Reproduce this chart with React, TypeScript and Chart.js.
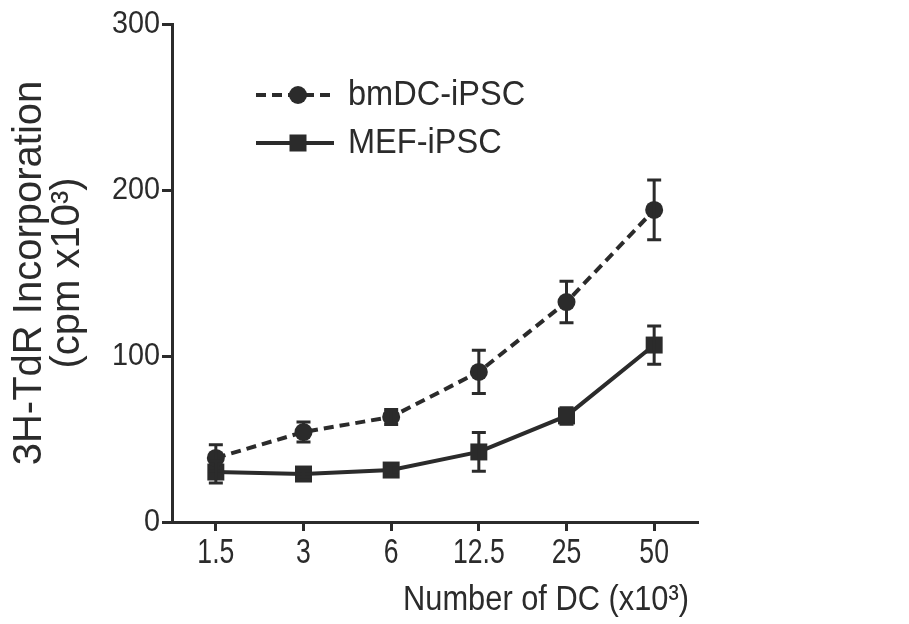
import React, { useEffect, useRef } from "react";
import { Chart, registerables } from "chart.js";

Chart.register(...registerables);

const categories = ["1.5", "3", "6", "12.5", "25", "50"];
const bmdcValues = [38.6, 54.2, 63.3, 90.4, 132.5, 188];
const bmdcErrors = [8, 6, 4.5, 13, 12.5, 18];
const mefValues = [30.1, 28.9, 31.3, 42.2, 63.9, 106.6];
const mefErrors = [6.6, 2, 3, 11.7, 5, 11.5];
const yTicks = [0, 100, 200, 300];
const xTitle = "Number of DC (x10³)";
const yTitleLines = ["3H-TdR Incorporation", "(cpm x10³)"];

const INK = "#2b2b2b";
const FAMILY = "'Liberation Sans', Arial, sans-serif";

function drawScaledText(
  ctx: CanvasRenderingContext2D,
  text: string,
  x: number,
  y: number,
  size: number,
  sx: number,
  align: CanvasTextAlign,
  rotation = 0
) {
  ctx.save();
  ctx.translate(x, y);
  if (rotation) ctx.rotate(rotation);
  ctx.scale(sx, 1);
  ctx.font = `${size}px ${FAMILY}`;
  ctx.fillStyle = INK;
  ctx.textAlign = align;
  ctx.textBaseline = "middle";
  ctx.fillText(text, 0, 0);
  ctx.restore();
}

const errorBarPlugin = {
  id: "errorBars",
  afterDatasetsDraw(chart: any) {
    const ctx = chart.ctx;
    const y = chart.scales.y;
    chart.data.datasets.forEach((ds: any, i: number) => {
      const meta = chart.getDatasetMeta(i);
      const errs: number[] = ds.errors || [];
      meta.data.forEach((pt: any, j: number) => {
        const v = ds.data[j];
        const e = errs[j] || 0;
        if (!e) return;
        const top = y.getPixelForValue(v + e);
        const bot = y.getPixelForValue(v - e);
        const x = pt.x;
        ctx.save();
        ctx.strokeStyle = INK;
        ctx.lineWidth = 3;
        ctx.beginPath();
        ctx.moveTo(x, top);
        ctx.lineTo(x, bot);
        ctx.moveTo(x - 7, top);
        ctx.lineTo(x + 7, top);
        ctx.moveTo(x - 7, bot);
        ctx.lineTo(x + 7, bot);
        ctx.stroke();
        ctx.restore();
      });
    });
  },
};

const textPlugin = {
  id: "axisText",
  afterDraw(chart: any) {
    const ctx = chart.ctx;
    const area = chart.chartArea;
    const xs = chart.scales.x;
    const ys = chart.scales.y;
    // x tick labels
    categories.forEach((c, i) => {
      drawScaledText(ctx, c, xs.getPixelForTick(i), area.bottom + 31, 35, 0.76, "center");
    });
    // y tick labels
    yTicks.forEach((v) => {
      drawScaledText(ctx, String(v), area.left - 12, ys.getPixelForValue(v), 32, 0.9, "right");
    });
    // x title
    drawScaledText(ctx, xTitle, area.left + 374, area.bottom + 78, 35, 0.88, "center");
    // y title
    const cy = (area.top + area.bottom) / 2;
    yTitleLines.forEach((line, i) => {
      drawScaledText(ctx, line, area.left - 142 + i * 38, cy, 40, 1, "center", -Math.PI / 2);
    });
  },
};

const legendPlugin = {
  id: "insideLegend",
  afterDraw(chart: any) {
    const ctx = chart.ctx;
    const area = chart.chartArea;
    const rows = [71, 119];
    chart.data.datasets.forEach((ds: any, i: number) => {
      const cy = area.top + rows[i];
      const x0 = area.left + 84;
      const x1 = area.left + 162;
      const mx = area.left + 126;
      ctx.save();
      ctx.strokeStyle = INK;
      ctx.lineWidth = 4;
      ctx.setLineDash(ds.borderDash || []);
      ctx.beginPath();
      ctx.moveTo(x0, cy);
      ctx.lineTo(x1, cy);
      ctx.stroke();
      ctx.setLineDash([]);
      ctx.fillStyle = INK;
      if (ds.pointStyle === "rect") {
        ctx.fillRect(mx - 8.5, cy - 8.5, 17, 17);
      } else {
        ctx.beginPath();
        ctx.arc(mx, cy, 9, 0, Math.PI * 2);
        ctx.fill();
      }
      ctx.restore();
      drawScaledText(ctx, ds.label, area.left + 176, cy, 35, 0.93, "left");
    });
  },
};

export default function App() {
  const ref = useRef<HTMLCanvasElement | null>(null);

  useEffect(() => {
    if (!ref.current) return;
    const chart = new Chart(ref.current, {
      type: "line",
      data: {
        labels: categories,
        datasets: [
          {
            label: "bmDC-iPSC",
            data: bmdcValues,
            errors: bmdcErrors,
            borderColor: INK,
            backgroundColor: INK,
            borderWidth: 4,
            borderDash: [10, 6],
            pointStyle: "circle",
            pointRadius: 9,
            pointBackgroundColor: INK,
            pointBorderWidth: 0,
            tension: 0,
          } as any,
          {
            label: "MEF-iPSC",
            data: mefValues,
            errors: mefErrors,
            borderColor: INK,
            backgroundColor: INK,
            borderWidth: 4,
            pointStyle: "rect",
            pointRadius: 12,
            pointBackgroundColor: INK,
            pointBorderWidth: 0,
            tension: 0,
          } as any,
        ],
      },
      options: {
        animation: false,
        responsive: false,
        devicePixelRatio: 1,
        layout: { padding: { top: 24, right: 211, bottom: 0, left: 0 } },
        plugins: {
          legend: { display: false },
          tooltip: { enabled: false },
        },
        scales: {
          x: {
            type: "category",
            offset: true,
            grid: {
              display: true,
              drawOnChartArea: false,
              drawTicks: true,
              tickLength: 9,
              tickWidth: 3,
              color: INK,
            },
            border: { display: true, color: INK, width: 3 },
            ticks: { color: "rgba(0,0,0,0)", font: { size: 30 }, maxRotation: 0 },
            afterFit(scale: any) {
              scale.height = 102;
            },
          },
          y: {
            type: "linear",
            min: 0,
            max: 300,
            afterBuildTicks(scale: any) {
              scale.ticks = yTicks.map((v) => ({ value: v }));
            },
            grid: {
              display: true,
              drawOnChartArea: false,
              drawTicks: true,
              tickLength: 10,
              tickWidth: 3,
              color: INK,
            },
            border: { display: true, color: INK, width: 3 },
            ticks: { color: "rgba(0,0,0,0)", font: { size: 28 } },
            afterFit(scale: any) {
              scale.width = 172;
            },
          },
        },
      } as any,
      plugins: [errorBarPlugin, textPlugin, legendPlugin],
    });
    return () => chart.destroy();
  }, []);

  return (
    <div style={{ position: "absolute", left: 0, top: 0, width: 909, height: 624, background: "#fff" }}>
      <canvas ref={ref} width={909} height={624} style={{ display: "block" }} />
    </div>
  );
}
